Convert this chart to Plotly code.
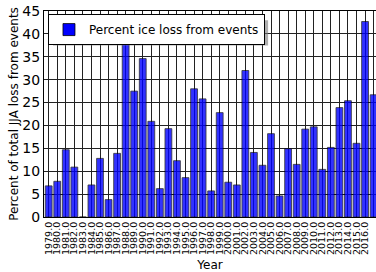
import plotly.graph_objects as go

years = list(range(1979, 2018))
pct_loss = [6.8, 7.8, 14.7, 10.9, 0.0, 7.0, 12.8, 3.8, 13.9, 39.2,
            27.5, 34.6, 20.9, 6.2, 19.3, 12.3, 8.6, 28.0, 25.8, 5.7,
            22.8, 7.6, 7.0, 32.0, 14.1, 11.3, 18.2, 4.6, 14.9, 11.5,
            19.2, 19.7, 10.4, 15.2, 23.9, 25.4, 16.1, 42.7, 26.7]
tick_labels = [f"{y}.0" for y in years]
y_ticks = list(range(0, 50, 5))

FONT = "DejaVu Sans"

fig = go.Figure()
fig.add_trace(go.Bar(
    x=years, y=pct_loss, name="Percent ice loss from events",
    marker=dict(color="rgb(0,0,255)", opacity=0.8,
                line=dict(color="black", width=0.8)),
    width=0.8, showlegend=True,
))

# legend drop shadow (decoration)
fig.add_shape(type="rect", xref="paper", yref="paper",
              x0=0.027, x1=0.675, y0=0.832, y1=0.955,
              fillcolor="rgba(120,120,120,0.6)", line=dict(width=0),
              layer="above")

fig.update_layout(
    width=376, height=272,
    margin=dict(l=44, r=0, t=11, b=55),
    paper_bgcolor="white", plot_bgcolor="white",
    font=dict(family=FONT, color="black"),
    showlegend=True,
    legend=dict(x=0.012, y=0.985, xanchor="left", yanchor="top",
                bgcolor="white", bordercolor="black", borderwidth=1,
                font=dict(size=12, family=FONT),
                itemwidth=30, tracegroupgap=0),
    xaxis=dict(
        range=[1978.45, 2017.28], tickmode="array", tickvals=years,
        ticktext=tick_labels, tickangle=-90, tickfont=dict(size=9.5),
        showgrid=True, gridcolor="#222", gridwidth=1,
        showline=True, linecolor="black", linewidth=1, mirror=True,
        ticks="", zeroline=False, automargin=False,
        title=dict(text="Year", font=dict(size=12)),
    ),
    yaxis=dict(
        range=[0, 45], tickmode="array", tickvals=y_ticks,
        tickfont=dict(size=14),
        showgrid=True, gridcolor="#222", gridwidth=1,
        showline=True, linecolor="black", linewidth=1,
        ticks="", zeroline=False, automargin=False,
        title=dict(text="Percent of total JJA loss from events",
                   font=dict(size=12), standoff=1),
    ),
)

fig.write_html("out.html",
               config={"displayModeBar": False},
               post_script="document.body.style.margin='0';"
                           "document.body.style.overflow='hidden';")
